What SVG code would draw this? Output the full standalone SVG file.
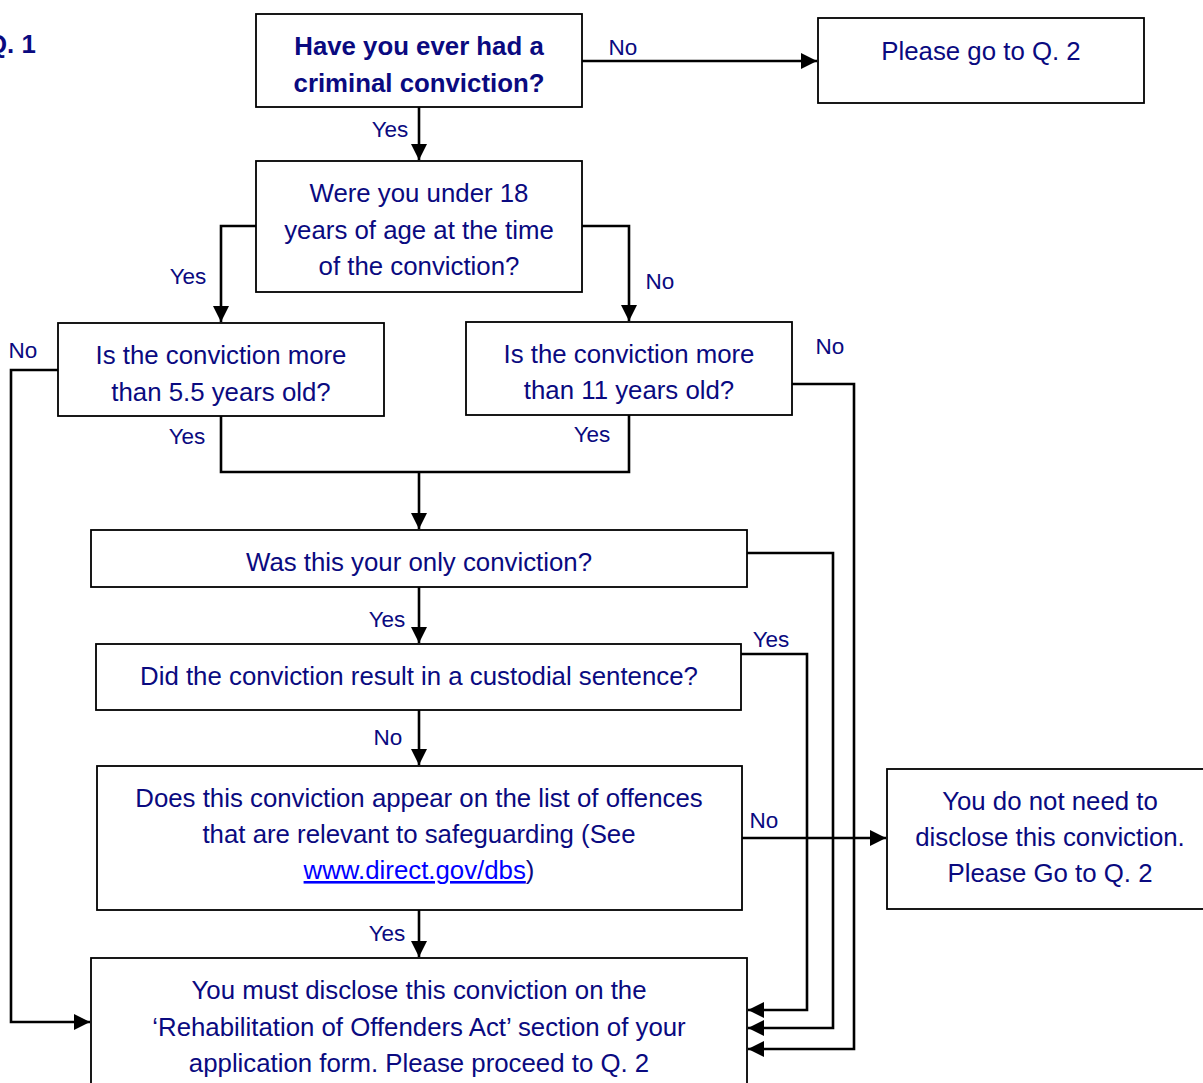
<svg xmlns="http://www.w3.org/2000/svg" width="1203" height="1083" viewBox="0 0 1203 1083">
<style>
.box{fill:#fff;stroke:#000;stroke-width:1.8}
.t{font-family:"Liberation Sans",Arial,sans-serif;font-size:25.8px;fill:#0a0a80;text-anchor:middle}
.b{font-weight:bold}
.lbl{font-family:"Liberation Sans",Arial,sans-serif;font-size:22.5px;fill:#0a0a80;text-anchor:middle}
.c{fill:none;stroke:#000;stroke-width:2.6}
.link{fill:#0000ff;text-decoration:underline}
</style>
<defs>
<marker id="ah" markerUnits="userSpaceOnUse" markerWidth="17" markerHeight="17" refX="16" refY="8" orient="auto">
<path d="M0,0 L16,8 L0,16 z" fill="#000"/>
</marker>
</defs>
<rect width="1203" height="1083" fill="#fff"/>
<text class="t b" x="-13" y="53" style="text-anchor:start">Q. 1</text>
<g id="connectors">
<path class="c" d="M582,61 H817" marker-end="url(#ah)"/>
<path class="c" d="M419,107 V160" marker-end="url(#ah)"/>
<path class="c" d="M256,226 H221 V322" marker-end="url(#ah)"/>
<path class="c" d="M582,226 H629 V321" marker-end="url(#ah)"/>
<path class="c" d="M58,370 H11 V1022 H90" marker-end="url(#ah)"/>
<path class="c" d="M792,384 H854 V1049 H748" marker-end="url(#ah)"/>
<path class="c" d="M221,416 V472 H629 V415"/>
<path class="c" d="M419,472 V529" marker-end="url(#ah)"/>
<path class="c" d="M747,553 H833 V1028 H748" marker-end="url(#ah)"/>
<path class="c" d="M419,587 V643" marker-end="url(#ah)"/>
<path class="c" d="M741,654 H807 V1010 H748" marker-end="url(#ah)"/>
<path class="c" d="M419,710 V765" marker-end="url(#ah)"/>
<path class="c" d="M742,838 H886" marker-end="url(#ah)"/>
<path class="c" d="M419,910 V957" marker-end="url(#ah)"/>
<text class="lbl" x="623" y="55">No</text>
<text class="lbl" x="390" y="137">Yes</text>
<text class="lbl" x="188" y="284">Yes</text>
<text class="lbl" x="660" y="289">No</text>
<text class="lbl" x="23" y="358">No</text>
<text class="lbl" x="830" y="354">No</text>
<text class="lbl" x="187" y="444">Yes</text>
<text class="lbl" x="592" y="442">Yes</text>
<text class="lbl" x="387" y="627">Yes</text>
<text class="lbl" x="771" y="647">Yes</text>
<text class="lbl" x="388" y="745">No</text>
<text class="lbl" x="764" y="828">No</text>
<text class="lbl" x="387" y="941">Yes</text>
</g>
<g id="q1">
<rect class="box" x="256" y="14" width="326" height="93"/>
<text class="t b" x="419" y="55">Have you ever had a</text>
<text class="t b" x="419" y="92">criminal conviction?</text>
</g>
<g id="goq2">
<rect class="box" x="818" y="18" width="326" height="85"/>
<text class="t" x="981" y="60">Please go to Q. 2</text>
</g>
<g id="under18">
<rect class="box" x="256" y="161" width="326" height="131"/>
<text class="t" x="419" y="202">Were you under 18</text>
<text class="t" x="419" y="239">years of age at the time</text>
<text class="t" x="419" y="275">of the conviction?</text>
</g>
<g id="older55">
<rect class="box" x="58" y="323" width="326" height="93"/>
<text class="t" x="221" y="364">Is the conviction more</text>
<text class="t" x="221" y="401">than 5.5 years old?</text>
</g>
<g id="older11">
<rect class="box" x="466" y="322" width="326" height="93"/>
<text class="t" x="629" y="363">Is the conviction more</text>
<text class="t" x="629" y="399">than 11 years old?</text>
</g>
<g id="only">
<rect class="box" x="91" y="530" width="656" height="57"/>
<text class="t" x="419" y="571">Was this your only conviction?</text>
</g>
<g id="custodial">
<rect class="box" x="96" y="644" width="645" height="66"/>
<text class="t" x="419" y="685">Did the conviction result in a custodial sentence?</text>
</g>
<g id="list">
<rect class="box" x="97" y="766" width="645" height="144"/>
<text class="t" x="419" y="807">Does this conviction appear on the list of offences</text>
<text class="t" x="419" y="843">that are relevant to safeguarding (See</text>
<text class="t" x="419" y="879"><tspan class="link">www.direct.gov/dbs</tspan>)</text>
</g>
<g id="disclose">
<rect class="box" x="91" y="958" width="656" height="140"/>
<text class="t" x="419" y="999">You must disclose this conviction on the</text>
<text class="t" x="419" y="1036">‘Rehabilitation of Offenders Act’ section of your</text>
<text class="t" x="419" y="1072">application form. Please proceed to Q. 2</text>
</g>
<g id="nodisclose">
<rect class="box" x="887" y="769" width="330" height="140"/>
<text class="t" x="1050" y="810">You do not need to</text>
<text class="t" x="1050" y="846">disclose this conviction.</text>
<text class="t" x="1050" y="882">Please Go to Q. 2</text>
</g>
</svg>
